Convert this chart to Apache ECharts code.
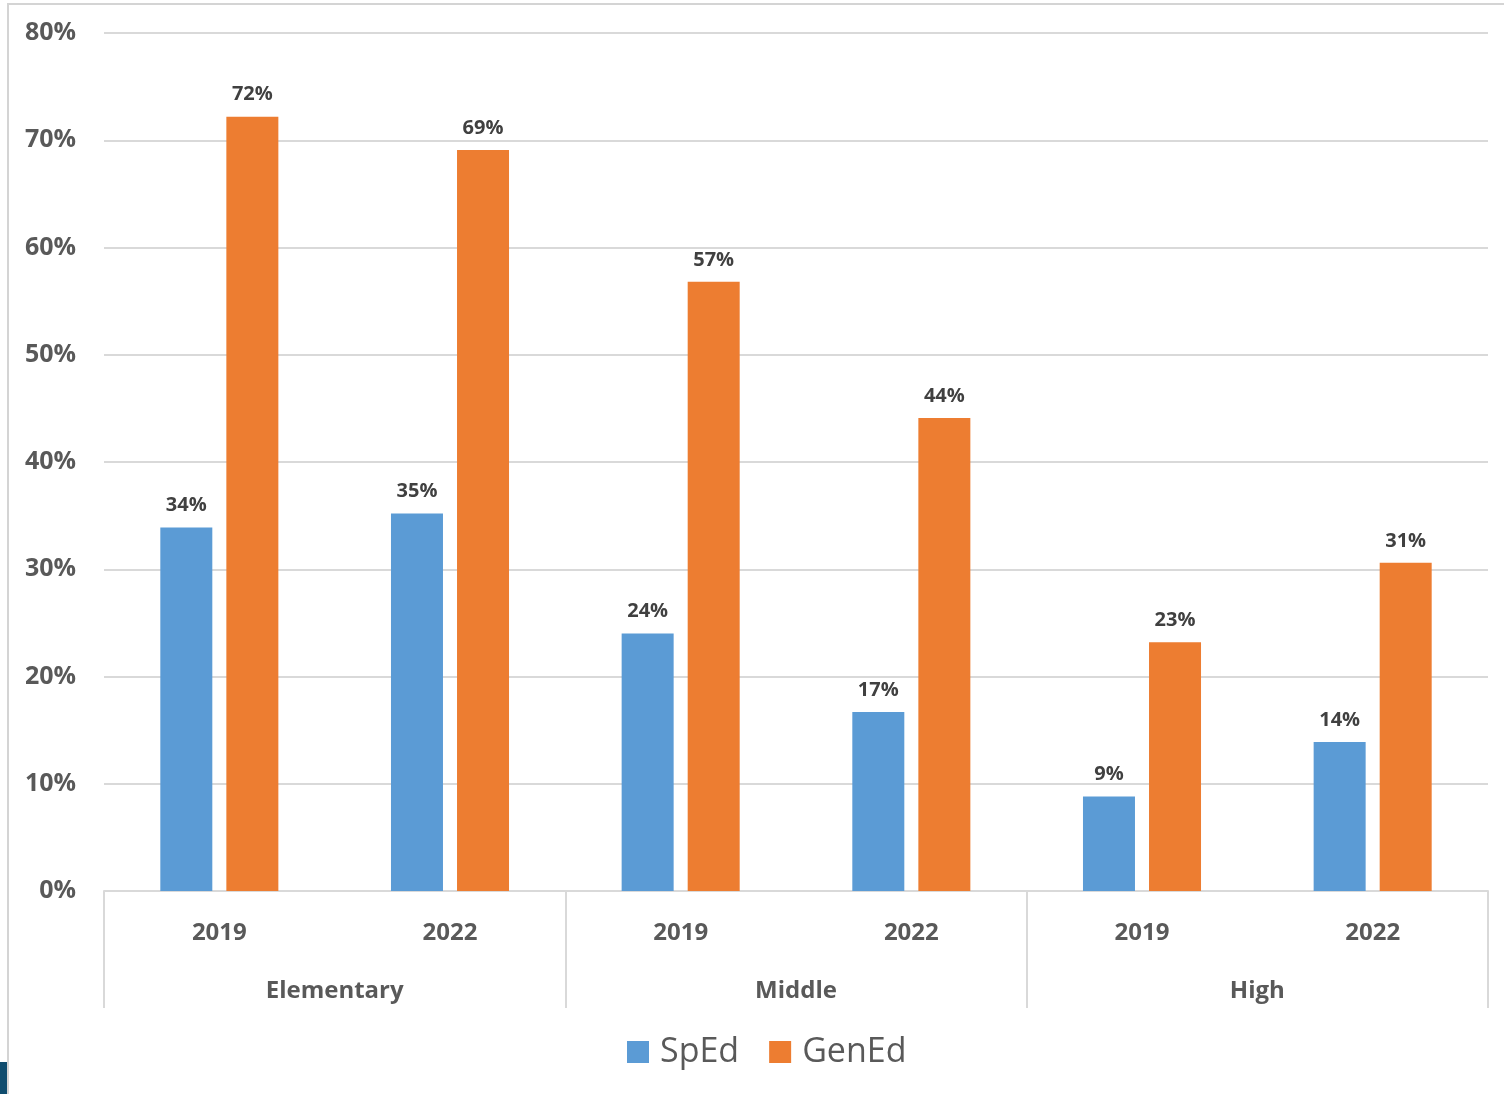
<!DOCTYPE html>
<html><head><meta charset="utf-8">
<script src="https://cdn.jsdelivr.net/npm/echarts@6/dist/echarts.min.js"></script>
<style>html,body{margin:0;padding:0;background:#fff}#c{width:1504px;height:1094px}</style>
</head><body><div id="c"></div>
<script>
const years = ['2019', '2022', '2019', '2022', '2019', '2022'];
const groups = ['Elementary', 'Middle', 'High'];
const spedValues = [33.9, 35.2, 24.0, 16.7, 8.8, 13.9];
const genedValues = [72.2, 69.1, 56.8, 44.1, 23.2, 30.6];
const yTicks = [0, 10, 20, 30, 40, 50, 60, 70, 80];

const FONT = '"Open Sans", "Noto Sans", sans-serif';
const chart = echarts.init(document.getElementById('c'));
const labelCfg = {
  show: true, position: 'top', distance: 12,
  formatter: p => Math.round(p.value) + '%',
  fontFamily: FONT, fontWeight: 'bold', fontSize: 20, color: '#404040'
};
chart.setOption({
  animation: false,
  grid: { left: 104, right: 16, top: 33, bottom: 203 },
  legend: {
    bottom: 25, left: 627, padding: 0, itemWidth: 22, itemHeight: 22, itemGap: 30,
    icon: 'rect',
    textStyle: { fontFamily: FONT, fontSize: 34, color: '#595959', padding: [0, 0, 0, 6] },
    data: ['SpEd', 'GenEd']
  },
  xAxis: [
    {
      type: 'category', data: years, position: 'bottom',
      axisLine: { lineStyle: { color: '#d9d9d9', width: 2 } },
      axisTick: { show: false },
      axisLabel: { margin: 30, fontFamily: FONT, fontWeight: 'bold', fontSize: 24, color: '#595959' }
    },
    {
      type: 'category', data: groups, position: 'bottom',
      axisLine: { show: false },
      axisTick: { show: true, length: 117, lineStyle: { color: '#d9d9d9', width: 2 } },
      axisLabel: { margin: 88, fontFamily: FONT, fontWeight: 'bold', fontSize: 24, color: '#595959' }
    }
  ],
  yAxis: {
    type: 'value', min: yTicks[0], max: yTicks[yTicks.length - 1], interval: 10,
    axisLine: { show: false }, axisTick: { show: false },
    splitLine: { lineStyle: { color: '#d9d9d9', width: 2 } },
    axisLabel: { formatter: v => v + '%', margin: 28, fontFamily: FONT, fontWeight: 'bold', fontSize: 25, color: '#595959' }
  },
  graphic: [
    { type: 'rect', shape: { x: 7, y: 3, width: 1504, height: 2 }, style: { fill: '#d4d4d4' } },
    { type: 'rect', shape: { x: 7, y: 3, width: 2, height: 1094 }, style: { fill: '#d4d4d4' } },
    { type: 'rect', shape: { x: 0, y: 1062, width: 7, height: 32 }, style: { fill: '#0f4c6e' } }
  ],
  series: [
    { name: 'SpEd', type: 'bar', data: spedValues, barWidth: 52, barGap: '27%',
      itemStyle: { color: '#5b9bd5' }, label: labelCfg },
    { name: 'GenEd', type: 'bar', data: genedValues, barWidth: 52, barGap: '27%',
      itemStyle: { color: '#ed7d31' }, label: labelCfg }
  ]
});
</script></body></html>
